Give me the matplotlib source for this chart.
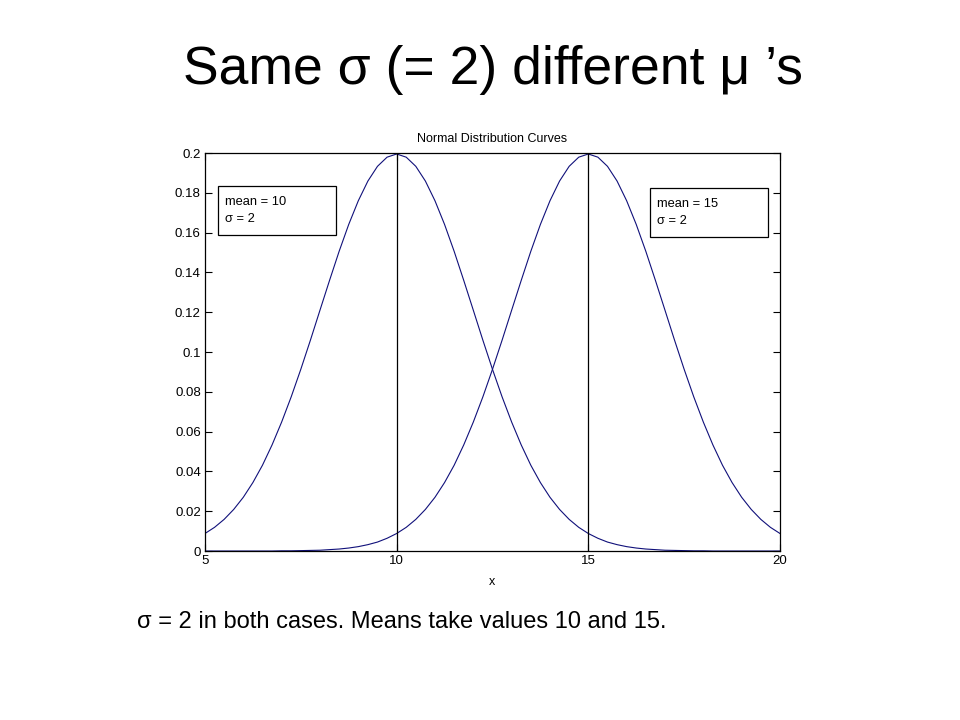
import matplotlib.pyplot as plt
from matplotlib.patches import Rectangle

# sample positions and the two curves
x = [5.0, 5.25, 5.5, 5.75, 6.0, 6.25, 6.5, 6.75, 7.0, 7.25, 7.5, 7.75,
     8.0, 8.25, 8.5, 8.75, 9.0, 9.25, 9.5, 9.75, 10.0, 10.25, 10.5, 10.75,
     11.0, 11.25, 11.5, 11.75, 12.0, 12.25, 12.5, 12.75, 13.0, 13.25, 13.5,
     13.75, 14.0, 14.25, 14.5, 14.75, 15.0, 15.25, 15.5, 15.75, 16.0, 16.25,
     16.5, 16.75, 17.0, 17.25, 17.5, 17.75, 18.0, 18.25, 18.5, 18.75, 19.0,
     19.25, 19.5, 19.75, 20.0]

mean10 = [0.0088, 0.0119, 0.0159, 0.0209, 0.0270, 0.0344, 0.0431, 0.0533,
          0.0648, 0.0775, 0.0913, 0.1059, 0.1210, 0.1360, 0.1506, 0.1641,
          0.1760, 0.1859, 0.1933, 0.1979, 0.1995, 0.1979, 0.1933, 0.1859,
          0.1760, 0.1641, 0.1506, 0.1360, 0.1210, 0.1059, 0.0913, 0.0775,
          0.0648, 0.0533, 0.0431, 0.0344, 0.0270, 0.0209, 0.0159, 0.0119,
          0.0088, 0.0064, 0.0045, 0.0032, 0.0022, 0.0015, 0.0010, 0.0007,
          0.0004, 0.0003, 0.0002, 0.0001, 0.0001, 0.0, 0.0, 0.0, 0.0, 0.0,
          0.0, 0.0, 0.0]

mean15 = [0.0, 0.0, 0.0, 0.0, 0.0, 0.0, 0.0, 0.0, 0.0001, 0.0001, 0.0002,
          0.0003, 0.0004, 0.0007, 0.0010, 0.0015, 0.0022, 0.0032, 0.0045,
          0.0064, 0.0088, 0.0119, 0.0159, 0.0209, 0.0270, 0.0344, 0.0431,
          0.0533, 0.0648, 0.0775, 0.0913, 0.1059, 0.1210, 0.1360, 0.1506,
          0.1641, 0.1760, 0.1859, 0.1933, 0.1979, 0.1995, 0.1979, 0.1933,
          0.1859, 0.1760, 0.1641, 0.1506, 0.1360, 0.1210, 0.1059, 0.0913,
          0.0775, 0.0648, 0.0533, 0.0431, 0.0344, 0.0270, 0.0209, 0.0159,
          0.0119, 0.0088]

means = [10, 15]
peak = 0.1995
box_labels = ['mean = 10\nσ = 2', 'mean = 15\nσ = 2']

plt.rcParams['font.family'] = ['Liberation Sans', 'DejaVu Sans']

fig = plt.figure(figsize=(9.6, 7.2), dpi=100)
fig.text(0.513, 0.903, 'Same σ (= 2) different μ \u2019s', ha='center',
         va='center', fontsize=38.5)
fig.text(0.143, 0.136, 'σ = 2 in both cases. Means take values 10 and 15.',
         ha='left', va='center', fontsize=17)

ax = fig.add_axes([0.2135, 0.2347, 0.599, 0.5528])
blue = '#10107a'
ax.plot(x, mean10, color=blue, lw=0.8)
ax.plot(x, mean15, color=blue, lw=0.8)
for m in means:
    ax.plot([m, m], [0, peak], color='black', lw=0.9)

ax.set_xlim(5, 20)
ax.set_ylim(0, 0.2)
ax.set_xticks([5, 10, 15, 20])
ax.set_yticks([0, 0.02, 0.04, 0.06, 0.08, 0.1, 0.12, 0.14, 0.16, 0.18, 0.2])
ax.set_yticklabels(['0', '0.02', '0.04', '0.06', '0.08', '0.1', '0.12',
                    '0.14', '0.16', '0.18', '0.2'])
ax.tick_params(direction='in', top=True, right=True, length=5, width=0.8,
               labelsize=9.5, pad=3)
for s in ax.spines.values():
    s.set_linewidth(0.9)
ax.set_title('Normal Distribution Curves', fontsize=9, pad=8)
ax.set_xlabel('x', fontsize=9, labelpad=6)

# annotation boxes (axes fractions)
boxes = [(0.0226, 0.7945, 0.2052, 0.1231), (0.7743, 0.7894, 0.2052, 0.1231)]
for (bx, by, bw, bh), lab in zip(boxes, box_labels):
    ax.add_patch(Rectangle((bx, by), bw, bh, transform=ax.transAxes,
                           facecolor='white', edgecolor='black', lw=0.9,
                           zorder=5))
    ax.text(bx + 0.012, by + bh / 2, lab, transform=ax.transAxes,
            fontsize=9.3, va='center', ha='left', linespacing=1.5, zorder=6)

plt.savefig('out.png', dpi=100)
